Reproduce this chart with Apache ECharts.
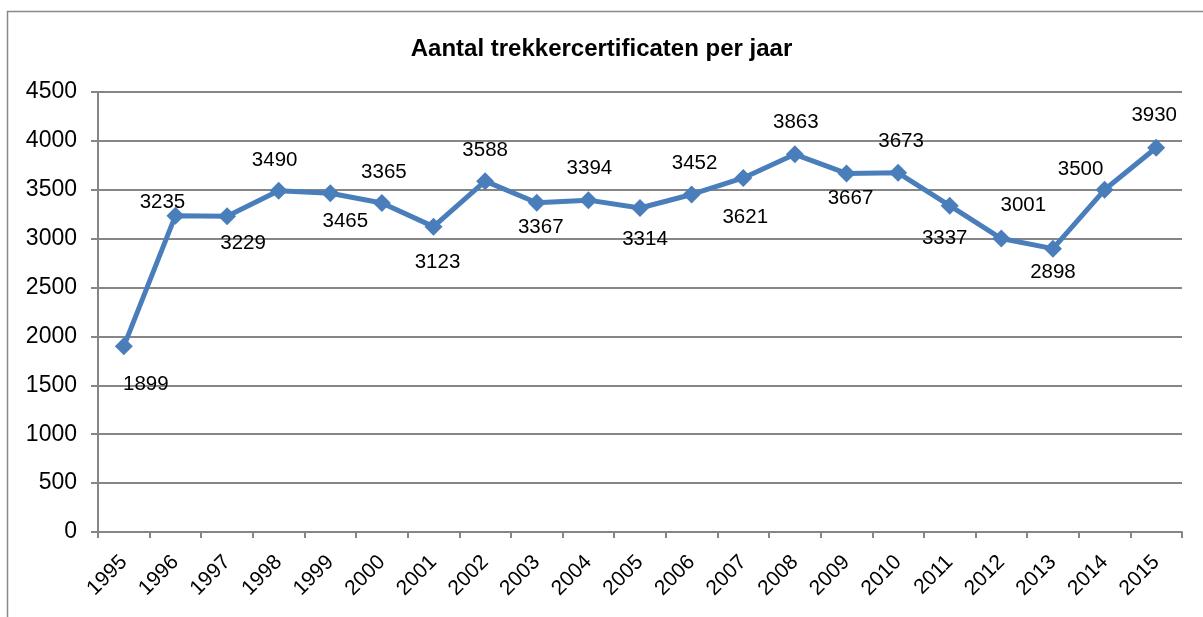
<!DOCTYPE html>
<html>
<head>
<meta charset="utf-8">
<script src="https://cdn.jsdelivr.net/npm/echarts@6/dist/echarts.min.js"></script>
<style>
  html, body { margin: 0; padding: 0; background: #fff; }
  #main { width: 1203px; height: 617px; }
</style>
</head>
<body>
<div id="main"></div>
<script>
// jaren en aantallen
var years = ['1995','1996','1997','1998','1999','2000','2001','2002','2003','2004','2005',
             '2006','2007','2008','2009','2010','2011','2012','2013','2014','2015'];
var counts = [1899,3235,3229,3490,3465,3365,3123,3588,3367,3394,3314,
              3452,3621,3863,3667,3673,3337,3001,2898,3500,3930];

// plaats van elk datalabel t.o.v. het punt [dx, dy]
var labelOffsets = [[22,38],[-13,-13],[16,27],[-4,-30],[15,28],[2,-31],[4,36],[0,-31],[4,25],[1,-32],[5,31],
                    [3,-31],[2,39],[1,-32],[4,25],[3,-32],[-5,33],[22,-33],[0,24],[-24,-20],[-2,-32]];

var gridColor = '#868686';
var lineColor = '#4a7ebb';

var seriesData = counts.map(function (v, i) {
    return {
        value: v,
        label: { offset: labelOffsets[i] }
    };
});

var myChart = echarts.init(document.getElementById('main'));

var option = {
    animation: false,
    title: {
        text: 'Aantal trekkercertificaten per jaar',
        left: 'center',
        top: 32,
        textStyle: {
            fontFamily: 'Liberation Sans',
            fontSize: 24,
            fontWeight: 'bold',
            color: '#000'
        }
    },
    graphic: [{
        type: 'rect',
        shape: { x: 7.5, y: 11.5, width: 1300, height: 700 },
        style: { fill: 'none', stroke: '#888', lineWidth: 1.5 },
        z: -1
    }],
    grid: {
        left: 98,
        right: 21,
        top: 92,
        bottom: 85
    },
    xAxis: {
        type: 'category',
        data: years,
        boundaryGap: true,
        axisLine: { lineStyle: { color: gridColor, width: 2 } },
        axisTick: { show: true, length: 6, alignWithLabel: false, lineStyle: { color: gridColor, width: 2 } },
        axisLabel: {
            interval: 0,
            rotate: 45,
            margin: 27,
            fontFamily: 'Liberation Sans',
            fontSize: 21,
            color: '#000'
        }
    },
    yAxis: {
        type: 'value',
        min: 0,
        max: 4500,
        interval: 500,
        axisLine: { show: true, lineStyle: { color: gridColor, width: 2 } },
        axisTick: { show: true, length: 7, lineStyle: { color: gridColor, width: 2 } },
        splitLine: { lineStyle: { color: gridColor, width: 2 } },
        axisLabel: {
            margin: 21,
            formatter: function (v) { return String(v); },
            fontFamily: 'Liberation Sans',
            fontSize: 23,
            color: '#000'
        }
    },
    series: [{
        type: 'line',
        data: seriesData,
        symbol: 'diamond',
        symbolSize: 18,
        lineStyle: { color: lineColor, width: 5 },
        itemStyle: { color: lineColor },
        label: {
            show: true,
            position: 'inside',
            fontFamily: 'Liberation Sans',
            fontSize: 20.5,
            color: '#000'
        }
    }]
};

myChart.setOption(option);
</script>
</body>
</html>
